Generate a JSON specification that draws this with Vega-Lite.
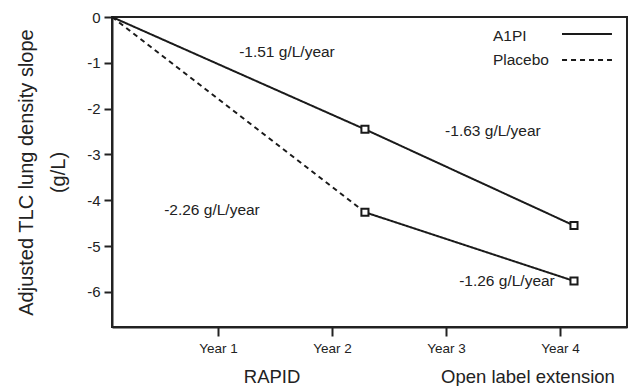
{
  "$schema": "https://vega.github.io/schema/vega-lite/v6.json",
  "autosize": {"type": "none"},
  "width": 515,
  "height": 310,
  "padding": {"left": 112, "top": 17, "right": 1, "bottom": 59},
  "background": "white",
  "config": {
    "view": {"stroke": "#222", "strokeWidth": 2},
    "font": "Liberation Sans",
    "text": {"font": "Liberation Sans", "color": "#222"}
  },
  "datasets": {
    "lines": [
      {"series": "A1PI", "seg": "a", "dash": "solid", "x": 0.07, "y": 0},
      {"series": "A1PI", "seg": "a", "dash": "solid", "x": 2.289, "y": -2.45},
      {"series": "A1PI", "seg": "a", "dash": "solid", "x": 4.123, "y": -4.55},
      {"series": "Placebo", "seg": "b", "dash": "dashed", "x": 0.07, "y": 0},
      {"series": "Placebo", "seg": "b", "dash": "dashed", "x": 2.289, "y": -4.26},
      {"series": "Placebo", "seg": "c", "dash": "solid", "x": 2.289, "y": -4.26},
      {"series": "Placebo", "seg": "c", "dash": "solid", "x": 4.123, "y": -5.76}
    ],
    "points": [
      {"series": "A1PI", "x": 2.289, "y": -2.45},
      {"series": "A1PI", "x": 4.123, "y": -4.55},
      {"series": "Placebo", "x": 2.289, "y": -4.26},
      {"series": "Placebo", "x": 4.123, "y": -5.76}
    ],
    "notes": [
      {"label": "-1.51 g/L/year", "x": 1.605, "y": -0.76},
      {"label": "-1.63 g/L/year", "x": 3.412, "y": -2.49},
      {"label": "-2.26 g/L/year", "x": 0.947, "y": -4.21},
      {"label": "-1.26 g/L/year", "x": 3.535, "y": -5.76}
    ],
    "legendText": [
      {"label": "A1PI", "x": 3.412, "y": -0.41},
      {"label": "Placebo", "x": 3.412, "y": -0.94}
    ],
    "legendLines": [
      {"dash": "solid", "x": 4.018, "x2": 4.456, "y": -0.37},
      {"dash": "dashed", "x": 4.018, "x2": 4.456, "y": -0.94}
    ],
    "groups": [
      {"label": "RAPID", "x": 1.474, "y": -7.855},
      {"label": "Open label extension", "x": 3.719, "y": -7.855}
    ]
  },
  "encoding": {
    "x": {
      "field": "x",
      "type": "quantitative",
      "scale": {"domain": [0.07, 4.588], "nice": false, "zero": false},
      "axis": {
        "values": [1, 2, 3, 4],
        "labelExpr": "'Year ' + datum.value",
        "title": null,
        "grid": false,
        "domainColor": "#222",
        "domainWidth": 2,
        "tickColor": "#222",
        "tickWidth": 2,
        "tickSize": 9,
        "labelFont": "Liberation Sans",
        "labelFontSize": 13.5,
        "labelColor": "#222",
        "labelPadding": 5
      }
    },
    "y": {
      "field": "y",
      "type": "quantitative",
      "scale": {"domain": [-6.764, 0], "nice": false, "zero": false},
      "axis": {
        "values": [0, -1, -2, -3, -4, -5, -6],
        "labelExpr": "toString(datum.value)",
        "title": ["Adjusted TLC lung density slope", "(g/L)"],
        "titleFont": "Liberation Sans",
        "titleFontSize": 20,
        "titleFontWeight": "normal",
        "titleColor": "#222",
        "titleLineHeight": 32,
        "titlePadding": 18,
        "grid": false,
        "domainColor": "#222",
        "domainWidth": 2,
        "tickColor": "#222",
        "tickWidth": 2,
        "tickSize": 8,
        "labelFont": "Liberation Sans",
        "labelFontSize": 15,
        "labelColor": "#222",
        "labelPadding": 4
      }
    }
  },
  "layer": [
    {
      "data": {"name": "lines"},
      "mark": {"type": "line", "color": "#1a1a1a", "strokeWidth": 2},
      "encoding": {
        "detail": {"field": "seg"},
        "strokeDash": {
          "field": "dash",
          "type": "nominal",
          "scale": {"domain": ["solid", "dashed"], "range": [[1, 0], [5, 4]]},
          "legend": null
        }
      }
    },
    {
      "data": {"name": "points"},
      "mark": {"type": "point", "shape": "square", "filled": false, "fill": "white", "fillOpacity": 1, "stroke": "#1a1a1a", "strokeWidth": 2, "size": 50, "opacity": 1}
    },
    {
      "data": {"name": "notes"},
      "mark": {"type": "text", "fontSize": 15.5, "align": "center", "baseline": "middle"},
      "encoding": {"text": {"field": "label"}}
    },
    {
      "data": {"name": "legendText"},
      "mark": {"type": "text", "fontSize": 15.5, "align": "left", "baseline": "middle"},
      "encoding": {"text": {"field": "label"}}
    },
    {
      "data": {"name": "legendLines"},
      "mark": {"type": "rule", "color": "#1a1a1a", "strokeWidth": 2},
      "encoding": {
        "x2": {"field": "x2"},
        "strokeDash": {
          "field": "dash",
          "type": "nominal",
          "scale": {"domain": ["solid", "dashed"], "range": [[1, 0], [5, 4]]},
          "legend": null
        }
      }
    },
    {
      "data": {"name": "groups"},
      "mark": {"type": "text", "fontSize": 18.5, "align": "center", "baseline": "middle"},
      "encoding": {"text": {"field": "label"}}
    }
  ]
}
